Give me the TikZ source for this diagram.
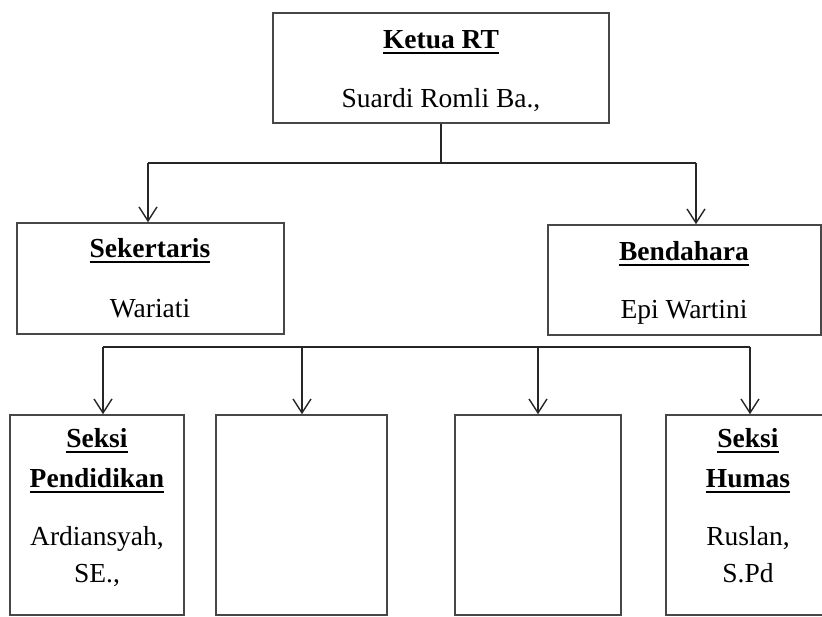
\documentclass[tikz,border=0pt]{standalone}
\usepackage{fontspec}
\setmainfont{Liberation Serif}
\usetikzlibrary{arrows.meta}
\newcommand{\myul}[1]{\leavevmode\setbox0=\hbox{#1}\rlap{\rule[-6pt]{\wd0}{2pt}}\box0}
\tikzset{
 box/.style={draw=black!72, line width=1.6pt, rectangle, inner sep=0pt},
 lbl/.style={anchor=base, inner sep=0pt, font=\fontsize{27.5}{30}\selectfont},
 head/.style={anchor=base, inner sep=0pt, font=\fontsize{27.5}{30}\selectfont\bfseries},
 conn/.style={draw=black!85, line width=1.4pt},
 arr/.style={conn, -{Straight Barb[length=14pt,width=18pt]}}
}
\begin{document}
\begin{tikzpicture}[x=1pt,y=-1pt]
\useasboundingbox (0,0) rectangle (822,616);
% boxes
\node[box, minimum width=336pt, minimum height=110pt] (ketua) at (441,68) {};
\node[box, minimum width=267pt, minimum height=111pt] (sek) at (150.5,278.5) {};
\node[box, minimum width=273pt, minimum height=110pt] (ben) at (684.5,280) {};
\node[box, minimum width=174pt, minimum height=200pt] (b1) at (97,515) {};
\node[box, minimum width=171pt, minimum height=200pt] (b2) at (301.5,515) {};
\node[box, minimum width=166pt, minimum height=200pt] (b3) at (538,515) {};
\node[box, minimum width=164pt, minimum height=200pt] (b4) at (748,515) {};
% texts
\node[head] (t1) at (441,48) {\myul{Ketua RT}};
\node[lbl] (t2) at (441,107) {Suardi Romli Ba.,};
\node[head] (t3) at (150,257) {\myul{Sekertaris}};
\node[lbl] (t4) at (150,317) {Wariati};
\node[head] (t5) at (684,260) {\myul{Bendahara}};
\node[lbl] (t6) at (684,318) {Epi Wartini};
\node[head] (t7) at (97,447) {\myul{Seksi}};
\node[head] (t8) at (97,487) {\myul{Pendidikan}};
\node[lbl] (t9) at (97,545) {Ardiansyah,};
\node[lbl] (t10) at (97,582) {SE.,};
\node[head] (t11) at (748,447) {\myul{Seksi}};
\node[head] (t12) at (748,487) {\myul{Humas}};
\node[lbl] (t13) at (748,545) {Ruslan,};
\node[lbl] (t14) at (748,582) {S.Pd};
% upper connectors
\coordinate (j1) at (441,163);
\coordinate (l1) at (148,163);
\coordinate (r1) at (696,163);
\draw[conn] (ketua.south) -- (j1);
\draw[conn] (l1) -- (r1);
\draw[arr] (l1) -- (l1 |- sek.north);
\draw[arr] (r1) -- (r1 |- ben.north);
% lower connectors
\coordinate (c1) at (103,347);
\coordinate (c2) at (302,347);
\coordinate (c3) at (538,347);
\coordinate (c4) at (750,347);
\draw[conn] (c1) -- (c4);
\draw[arr] (c1) -- (c1 |- b1.north);
\draw[arr] (c2) -- (c2 |- b2.north);
\draw[arr] (c3) -- (c3 |- b3.north);
\draw[arr] (c4) -- (c4 |- b4.north);
\end{tikzpicture}
\end{document}
